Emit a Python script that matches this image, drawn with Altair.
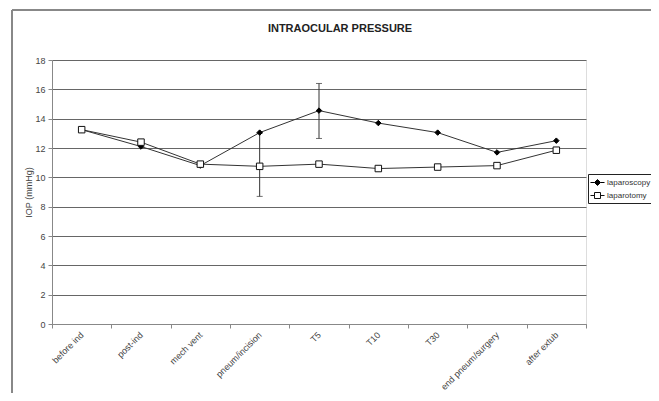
import altair as alt
import pandas as pd

categories = ["before ind", "post-ind", "mech vent", "pneum/incision", "T5",
              "T10", "T30", "end pneum/surgery", "after extub"]
laparoscopy = [13.25, 12.1, 10.8, 13.05, 14.55, 13.7, 13.05, 11.7, 12.5]
laparotomy = [13.25, 12.4, 10.9, 10.75, 10.9, 10.6, 10.7, 10.8, 11.85]
series_names = ["laparoscopy", "laparotomy"]

err_categories = ["pneum/incision", "T5"]
err_low = [8.7, 12.65]
err_high = [13.0, 16.4]

y_ticks = [0, 2, 4, 6, 8, 10, 12, 14, 16, 18]

rows = []
for name, vals in zip(series_names, [laparoscopy, laparotomy]):
    for c, v in zip(categories, vals):
        rows.append({"cat": c, "series": name, "value": v})
df = pd.DataFrame(rows)
err_df = pd.DataFrame({"cat": err_categories, "low": err_low, "high": err_high})

FONT = "Liberation Sans"

x_axis = alt.Axis(labelAngle=-45, labelAlign="right", labelBaseline="middle",
                  labelPadding=5, tickBand="extent", tickSize=4,
                  labelFontSize=9, labelColor="#444", labelFont=FONT,
                  domainColor="#888", tickColor="#888", grid=False, title=None)
x_scale = alt.Scale(domain=categories, paddingInner=0, paddingOuter=0)
y_axis = alt.Axis(values=y_ticks, tickSize=4, labelPadding=3, title="IOP (mmHg)",
                  labelFontSize=9, labelColor="#444", labelFont=FONT,
                  titleFont=FONT, titleFontSize=9, titleFontWeight="normal",
                  titleColor="#444", titlePadding=1, labelOverlap=False,
                  domainColor="#888", tickColor="#888",
                  grid=True, gridColor="#666", gridWidth=1)
y_scale = alt.Scale(domain=[0, 18], nice=False)


def X():
    return alt.X("cat:N", sort=categories, scale=x_scale, axis=x_axis)


def Y(field):
    return alt.Y(field, scale=y_scale, axis=y_axis)


base = alt.Chart(df)

lines = base.mark_line(color="#333", strokeWidth=1).encode(
    x=X(), y=Y("value:Q"), detail="series:N")

errs = alt.Chart(err_df).mark_rule(color="#333", strokeWidth=1).encode(
    x=X(), y=Y("low:Q"), y2="high:Q")
caps_low = alt.Chart(err_df).mark_tick(color="#333", thickness=1, size=6).encode(
    x=X(), y=Y("low:Q"))
caps_high = alt.Chart(err_df).mark_tick(color="#333", thickness=1, size=6).encode(
    x=X(), y=Y("high:Q"))

diamonds = base.transform_filter(alt.datum.series == series_names[0]).mark_point(
    shape="diamond", filled=True, fill="black", stroke="black", strokeWidth=1, opacity=1, size=30).encode(
    x=X(), y=Y("value:Q"))
squares = base.transform_filter(alt.datum.series == series_names[1]).mark_point(
    shape="square", filled=True, fill="white", stroke="#111", strokeWidth=1, opacity=1, size=42).encode(
    x=X(), y=Y("value:Q"))

leg_diamond = "M-1.17,0H-0.5M0.5,0H1.17M0,-0.5L0.5,0L0,0.5L-0.5,0Z"
leg_square = "M-1.17,0H-0.5M0.5,0H1.17M-0.5,-0.5H0.5V0.5H-0.5Z"
legend_layer = base.transform_filter("false").mark_point(
    filled=True, strokeWidth=1, size=144, opacity=1).encode(
    x=X(),
    y=Y("value:Q"),
    shape=alt.Shape("series:N", scale=alt.Scale(domain=series_names, range=[leg_diamond, leg_square]),
                    legend=alt.Legend(title=None, orient="none", legendX=536, legendY=114,
                                      strokeColor="#222", fillColor="white", padding=2,
                                      rowPadding=1, symbolOffset=1, labelOffset=3,
                                      labelFont=FONT, labelFontSize=8, labelColor="#333",
                                      symbolSize=144, symbolStrokeWidth=1,
                                      labelLimit=200)),
    fill=alt.Fill("series:N", scale=alt.Scale(domain=series_names, range=["black", "white"]),
                  legend=alt.Legend(title=None)),
    stroke=alt.Stroke("series:N", scale=alt.Scale(domain=series_names, range=["black", "#111"]),
                      legend=alt.Legend(title=None)),
)

frame_left = alt.Chart(df).mark_rule(color="#888", strokeWidth=1.5).encode(
    x=alt.value(-40), y=alt.value(-50), y2=alt.value(400))
frame_top = alt.Chart(df).mark_rule(color="#888", strokeWidth=1.5).encode(
    x=alt.value(-40), x2=alt.value(700), y=alt.value(-50))

chart = alt.layer(frame_left, frame_top, lines, errs, caps_low, caps_high, diamonds, squares, legend_layer).properties(
    width=534, height=264,
    title=alt.TitleParams("INTRAOCULAR PRESSURE", font=FONT, fontSize=11, fontWeight="bold",
                          color="#222", anchor="middle", dx=21, offset=-25),
    autosize=alt.AutoSizeParams(type="none"),
    padding={"left": 44, "top": 52, "right": 65, "bottom": 69},
).configure_view(stroke="#aaa", strokeWidth=1).configure(background="white")

chart.save("out.html", embed_options={"renderer": "svg", "actions": False})
